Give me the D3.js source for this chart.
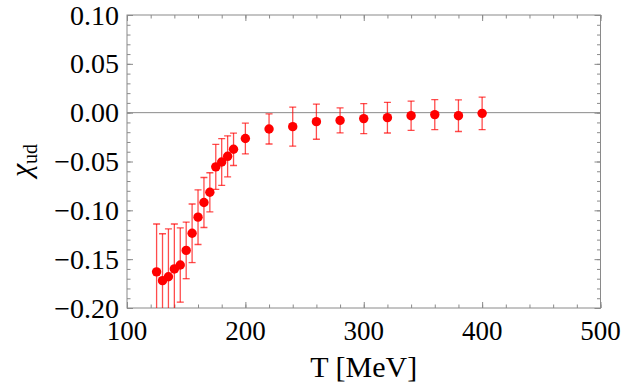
<!DOCTYPE html>
<html>
<head>
<meta charset="utf-8">
<script src="https://cdn.jsdelivr.net/npm/d3@7"></script>
<style>
  body { margin: 0; background: #fff; }
</style>
</head>
<body>
<div id="chart"></div>
<script>
// data
var temps  = [125, 130, 135, 140, 145, 150, 155, 160, 165, 170, 175, 180, 185, 190, 200, 220, 240, 260, 280, 300, 320, 340, 360, 380, 400];
var chi    = [-0.163, -0.172, -0.168, -0.160, -0.156, -0.141, -0.1235, -0.107, -0.092, -0.0815, -0.0555, -0.0505, -0.0447, -0.0375, -0.0265, -0.0167, -0.0143, -0.0092, -0.0079, -0.0061, -0.0051, -0.0031, -0.0020, -0.0031, -0.0007];
var errs   = [0.049, 0.048, 0.049, 0.046, 0.038, 0.029, 0.030, 0.028, 0.0256, 0.020, 0.023, 0.024, 0.021, 0.0166, 0.0157, 0.0154, 0.020, 0.018, 0.0128, 0.0154, 0.0157, 0.015, 0.0153, 0.0162, 0.0167];
var xTicks = [100, 200, 300, 400, 500];
var yTicks = [-0.20, -0.15, -0.10, -0.05, 0.00, 0.05, 0.10];

var serif = "'Liberation Serif', 'DejaVu Serif', serif";

function main(){
    var margin = {top: 15, right: 24.5, bottom: 80, left: 127},
        width = 625 - margin.left - margin.right,
        height = 388 - margin.top - margin.bottom;

    var svg = d3.select("#chart")
        .append("svg")
            .attr("width", 625)
            .attr("height", 388)
        .append("g")
            .attr("transform", "translate(" + margin.left + "," + margin.top + ")");

    var x = d3.scaleLinear().domain([100, 500]).range([0, width]);
    var y = d3.scaleLinear().domain([-0.20, 0.10]).range([height, 0]);

    var frameColor = "#8a8a8a";
    var xMinor = d3.range(100, 501, 20);
    var yMinor = d3.range(-20, 11, 1).map(function(d){ return d / 100; });

    // ticks on all four sides, pointing inward
    function tickAxis(axis, scale, values, size){
        return axis(scale).tickValues(values).tickSize(size).tickFormat("");
    }
    svg.append("g").attr("transform", "translate(0," + height + ")").call(tickAxis(d3.axisTop, x, xMinor, 3.5));
    svg.append("g").attr("transform", "translate(0," + height + ")").call(tickAxis(d3.axisTop, x, xTicks, 6));
    svg.append("g").call(tickAxis(d3.axisBottom, x, xMinor, 3.5));
    svg.append("g").call(tickAxis(d3.axisBottom, x, xTicks, 6));
    svg.append("g").call(tickAxis(d3.axisRight, y, yMinor, 3.5));
    svg.append("g").call(tickAxis(d3.axisRight, y, yTicks, 6));
    svg.append("g").attr("transform", "translate(" + width + ",0)").call(tickAxis(d3.axisLeft, y, yMinor, 3.5));
    svg.append("g").attr("transform", "translate(" + width + ",0)").call(tickAxis(d3.axisLeft, y, yTicks, 6));

    svg.selectAll(".domain").remove();
    svg.selectAll(".tick line").attr("stroke", frameColor).attr("stroke-width", 1);

    // frame
    svg.append("rect")
        .attr("width", width)
        .attr("height", height)
        .attr("fill", "none")
        .attr("stroke", frameColor)
        .attr("stroke-width", 1);

    // tick labels
    svg.selectAll(".xlab")
        .data(xTicks)
        .enter().append("text")
        .attr("x", function(d){ return x(d); })
        .attr("y", height + 32)
        .attr("text-anchor", "middle")
        .style("font-family", serif)
        .style("font-size", "27px")
        .text(function(d){ return d; });

    svg.selectAll(".ylab")
        .data(yTicks)
        .enter().append("text")
        .attr("x", -8)
        .attr("y", function(d){ return y(d); })
        .attr("dy", "0.34em")
        .attr("text-anchor", "end")
        .style("font-family", serif)
        .style("font-size", "28px")
        .text(function(d){ return d3.format(".2f")(d).replace("-", "\u2212"); });

    // axis titles
    svg.append("text")
        .attr("x", width / 2)
        .attr("y", height + 69)
        .attr("text-anchor", "middle")
        .style("font-family", serif)
        .style("font-size", "30px")
        .text("T [MeV]");

    var yt = svg.append("text")
        .attr("transform", "translate(-96," + (height * 0.5 - 1) + ")rotate(-90)")
        .attr("text-anchor", "middle")
        .style("font-family", serif);
    yt.append("tspan").style("font-size", "30px").style("font-style", "italic").text("\u03c7");
    yt.append("tspan").style("font-size", "20px").attr("dy", "6").text("ud");

    // zero line
    svg.append("line")
        .attr("x1", 0).attr("x2", width)
        .attr("y1", y(0)).attr("y2", y(0))
        .attr("stroke", frameColor)
        .attr("stroke-width", 1);

    // clip for error bars
    svg.append("clipPath").attr("id", "clip")
        .append("rect").attr("width", width).attr("height", height);

    var data = temps.map(function(t, i){ return {t: t, v: chi[i], e: errs[i]}; });
    var plot = svg.append("g").attr("clip-path", "url(#clip)");
    var errColor = "rgba(255,0,0,0.7)";

    plot.selectAll(".ebar")
        .data(data)
        .enter().append("line")
        .attr("x1", function(d){ return x(d.t); })
        .attr("x2", function(d){ return x(d.t); })
        .attr("y1", function(d){ return y(d.v - d.e); })
        .attr("y2", function(d){ return y(d.v + d.e); })
        .attr("stroke", errColor)
        .attr("stroke-width", 1.3);

    [1, -1].forEach(function(s){
        plot.selectAll(".cap" + s)
            .data(data)
            .enter().append("line")
            .attr("x1", function(d){ return x(d.t) - 3.5; })
            .attr("x2", function(d){ return x(d.t) + 3.5; })
            .attr("y1", function(d){ return y(d.v + s * d.e); })
            .attr("y2", function(d){ return y(d.v + s * d.e); })
            .attr("stroke", errColor)
            .attr("stroke-width", 1.3);
    });

    plot.selectAll(".dot")
        .data(data)
        .enter().append("circle")
        .attr("cx", function(d){ return x(d.t); })
        .attr("cy", function(d){ return y(d.v); })
        .attr("r", 4.7)
        .attr("fill", "#ff0000");
}

main();
</script>
</body>
</html>
